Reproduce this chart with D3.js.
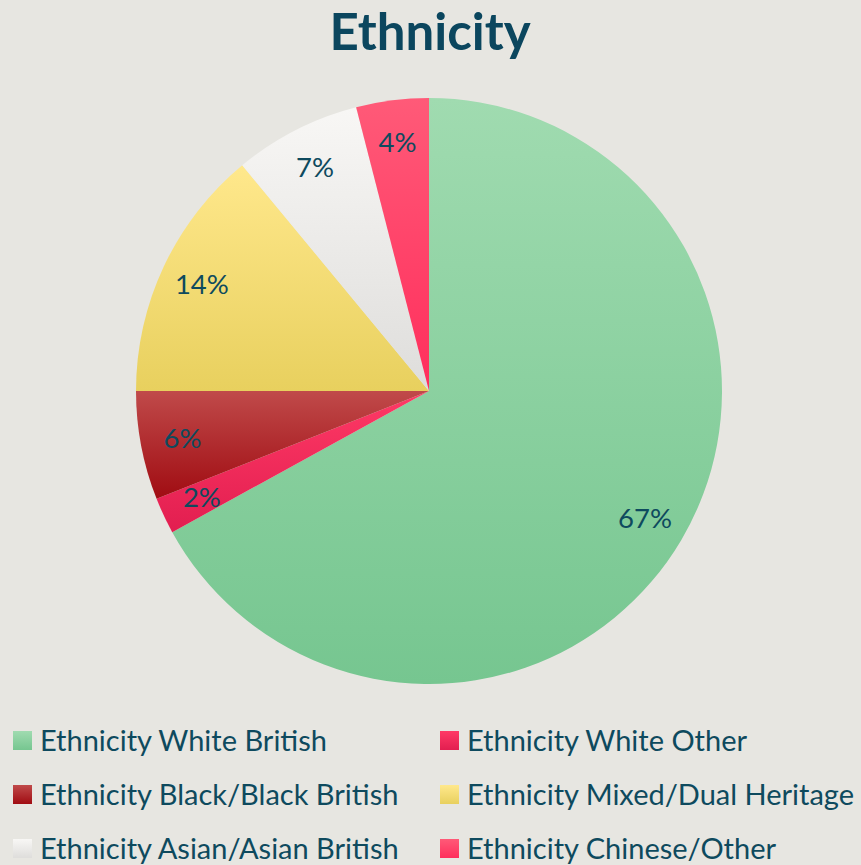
<!DOCTYPE html>
<html><head><meta charset="utf-8">
<script src="https://cdn.jsdelivr.net/npm/d3@7"></script>
<style>body{margin:0;background:#e7e6e1;}svg{display:block;}</style>
</head><body>
<script>
const categories = ["Ethnicity White British","Ethnicity White Other","Ethnicity Black/Black British","Ethnicity Mixed/Dual Heritage","Ethnicity Asian/Asian British","Ethnicity Chinese/Other"];
const values = [67,2,6,14,7,4];
const labels = ["67%","2%","6%","14%","7%","4%"];
const colorsTop = ["#a0dbb0","#ff3a66","#c04a4a","#ffe88c","#f8f7f5","#ff5a78"];
const colorsBottom = ["#76c690","#e21e50","#a00c12","#e8d05e","#dedddb","#ff2e5c"];
const legendOrder = [0,1,2,3,4,5];

const W=861,H=865, cx=429, cy=391, R=293;
const textColor="#0e4a5e";
const svg=d3.select("body").append("svg").attr("width",W).attr("height",H);
svg.append("rect").attr("width",W).attr("height",H).attr("fill","#e7e6e1");
const defs=svg.append("defs");
categories.forEach((c,i)=>{
  const g=defs.append("linearGradient").attr("id","g"+i).attr("x1",0).attr("y1",0).attr("x2",0).attr("y2",1);
  g.append("stop").attr("offset","0%").attr("stop-color",colorsTop[i]);
  g.append("stop").attr("offset","100%").attr("stop-color",colorsBottom[i]);
});
svg.append("text").attr("x",430).attr("y",50).attr("text-anchor","middle")
  .attr("font-family","Lato, 'Open Sans', sans-serif").attr("font-weight","bold").attr("font-size",51)
  .attr("fill","#0b465e").text("Ethnicity");

const pie=d3.pie().sort(null).value(d=>d)(values);
const arc=d3.arc().innerRadius(0).outerRadius(R);
const g=svg.append("g").attr("transform",`translate(${cx},${cy})`);
g.selectAll("path").data(pie).join("path").attr("d",arc).attr("fill",(d,i)=>`url(#g${i})`);
const lr=251;
g.selectAll("text").data(pie).join("text")
  .attr("x",d=>{const a=(d.startAngle+d.endAngle)/2;return Math.sin(a)*lr;})
  .attr("y",d=>{const a=(d.startAngle+d.endAngle)/2;return -Math.cos(a)*lr;})
  .attr("dy","0.35em").attr("text-anchor","middle")
  .attr("font-family","Lato, 'Open Sans', sans-serif").attr("font-size",27.5).attr("fill",textColor)
  .text((d,i)=>labels[i]);

const lg=svg.append("g");
legendOrder.forEach((idx,k)=>{
  const col=k%2, row=Math.floor(k/2);
  const x= col===0?13:440, y=741+row*54;
  lg.append("rect").attr("x",x).attr("y",y-10).attr("width",19).attr("height",19).attr("fill",`url(#g${idx})`);
  lg.append("text").attr("x",x+27).attr("y",y).attr("dy","0.35em")
    .attr("font-family","Lato, 'Open Sans', sans-serif").attr("font-size",29).attr("fill",textColor)
    .text(categories[idx]);
});
</script>
</body></html>
